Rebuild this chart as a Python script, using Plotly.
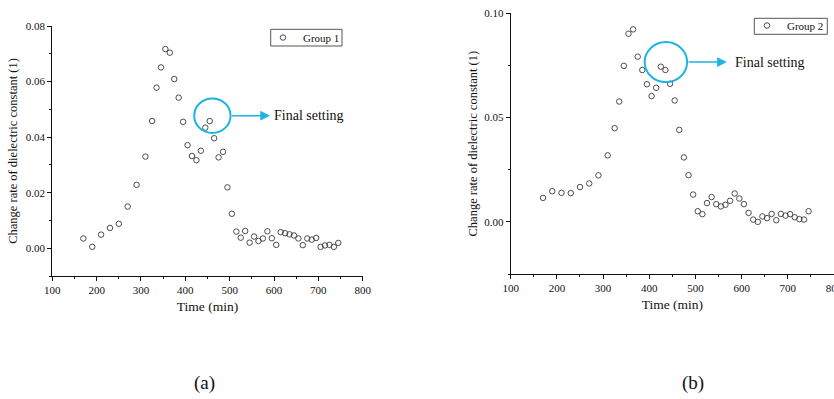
import plotly.graph_objects as go

# ---------------- data ----------------
time_min = [170, 190, 210, 230, 250, 270, 290, 310,
            325, 335, 345, 355, 365, 375, 385, 395, 405, 415, 425, 435,
            445, 455, 465, 475, 485, 495, 505, 515, 525, 535, 545, 555,
            565, 575, 585, 595, 605, 615, 625, 635, 645, 655, 665, 675,
            685, 695, 705, 715, 725, 735, 745]

group1 = [0.0035, 0.0005, 0.0049, 0.0073, 0.0088, 0.0150, 0.0228, 0.0330,
          0.0458, 0.0578, 0.0651, 0.0717, 0.0704, 0.0609, 0.0542, 0.0455,
          0.0371, 0.0332, 0.0317, 0.0351, 0.0434, 0.0458, 0.0396, 0.0327,
          0.0347, 0.0219, 0.0124, 0.0060, 0.0038, 0.0062, 0.0020, 0.0042,
          0.0026, 0.0035, 0.0061, 0.0036, 0.0012, 0.0058, 0.0054, 0.0050,
          0.0046, 0.0035, 0.0011, 0.0035, 0.0031, 0.0037, 0.0005, 0.0010,
          0.0012, 0.0005, 0.0019]

group2 = [0.0115, 0.0147, 0.0139, 0.0138, 0.0167, 0.0184, 0.0223, 0.0319,
          0.0449, 0.0577, 0.0748, 0.0902, 0.0923, 0.0792, 0.0728, 0.0660,
          0.0603, 0.0643, 0.0744, 0.0728, 0.0662, 0.0582, 0.0441, 0.0309,
          0.0224, 0.0131, 0.0051, 0.0037, 0.0090, 0.0119, 0.0085, 0.0074,
          0.0082, 0.0101, 0.0136, 0.0112, 0.0085, 0.0043, 0.0011, 0.0000,
          0.0026, 0.0018, 0.0038, 0.0008, 0.0038, 0.0030, 0.0037, 0.0022,
          0.0013, 0.0011, 0.0051]

series_names = ["Group 1", "Group 2"]
panel_labels = ["(a)", "(b)"]
x_title = "Time (min)"
y_title = "Change rate of dielectric constant (1)"
note_text = "Final setting"

# final-setting highlight (data coords): centre x, centre y, radius x, radius y
hl1 = (461, 0.0477, 41, 0.0062)
hl2 = (436, 0.0766, 46, 0.0096)
arrow1 = (591, 595)   # arrow tip x, text start x
arrow2 = (568, 581)

FONT = "Liberation Serif, Times New Roman, Times, serif"
CYAN = "#1CB4E3"
MK = "#3a3a3a"

fig = go.Figure()
fig.add_trace(go.Scatter(
    x=time_min, y=group1, mode="markers", name=series_names[0],
    marker=dict(symbol="circle-open", size=5.5, color=MK, line=dict(width=0.9, color=MK)),
    xaxis="x", yaxis="y", legend="legend"))
fig.add_trace(go.Scatter(
    x=time_min, y=group2, mode="markers", name=series_names[1],
    marker=dict(symbol="circle-open", size=5.5, color=MK, line=dict(width=0.9, color=MK)),
    xaxis="x2", yaxis="y2", legend="legend2"))

W, H = 834, 399

def axis_common():
    return dict(showline=True, linecolor="#111", linewidth=1, ticks="outside",
                ticklen=4, tickwidth=1, tickcolor="#111", showgrid=False,
                zeroline=False, automargin=False, mirror=False,
                ticklabeloverflow="allow",
                tickfont=dict(family=FONT, size=11, color="#111"))

xa = axis_common()
xa.update(range=[100, 800], dtick=100, tick0=100, domain=[52.3 / W, 362.7 / W],
          anchor="y", title=dict(text=x_title, font=dict(family=FONT, size=13.5, color="#111"), standoff=6),
          minor=dict(ticks="outside", ticklen=2, dtick=50, tick0=100, tickcolor="#111"))
ya = axis_common()
ya.update(range=[-0.01, 0.08], dtick=0.02, tick0=0, tickformat=".2f",
          domain=[1 - 276 / H, 1 - 26 / H], anchor="x",
          title=dict(text=y_title, font=dict(family=FONT, size=12.5, color="#111"), standoff=5),
          minor=dict(ticks="outside", ticklen=2, dtick=0.01, tick0=0, tickcolor="#111"))
xa2 = axis_common()
xa2.update(range=[100, 800], dtick=100, tick0=100, domain=[510.7 / W, 1.0],
           anchor="y2", title=dict(text=x_title, font=dict(family=FONT, size=13.5, color="#111"), standoff=6),
           minor=dict(ticks="outside", ticklen=2, dtick=50, tick0=100, tickcolor="#111"))
ya2 = axis_common()
ya2.update(range=[-0.025, 0.10], dtick=0.05, tick0=0, tickformat=".2f",
           domain=[1 - 274 / H, 1 - 13.3 / H], anchor="x2",
           title=dict(text=y_title, font=dict(family=FONT, size=12.5, color="#111"), standoff=3),
           minor=dict(ticks="outside", ticklen=2, dtick=0.025, tick0=0, tickcolor="#111"))

shapes = []
annotations = []
for (cx, cy, rx, ry), (tip, tx), xr, yr in [(hl1, arrow1, "x", "y"), (hl2, arrow2, "x2", "y2")]:
    shapes.append(dict(type="circle", xref=xr, yref=yr, x0=cx - rx, x1=cx + rx,
                       y0=cy - ry, y1=cy + ry, line=dict(color=CYAN, width=2)))
    annotations.append(dict(x=tip, y=cy, xref=xr, yref=yr, ax=cx + rx, ay=cy,
                            axref=xr, ayref=yr, text="", showarrow=True,
                            arrowhead=2, arrowsize=1.3, arrowwidth=1.5, arrowcolor=CYAN))
    annotations.append(dict(x=tx, y=cy, xref=xr, yref=yr, text=note_text, showarrow=False,
                            xanchor="left", yanchor="middle",
                            font=dict(family=FONT, size=14, color="#111")))

for lbl, px in zip(panel_labels, [204, 693]):
    annotations.append(dict(x=px / W, y=1 - 383 / H, xref="paper", yref="paper", text=lbl,
                            showarrow=False, xanchor="center", yanchor="middle",
                            font=dict(family=FONT, size=19, color="#111")))

# legend frames (pixel boxes -> paper coords)
for (l, t, r, b) in [(270.7, 29.3, 342.0, 46.0), (754.3, 18.3, 827.3, 34.3)]:
    shapes.append(dict(type="rect", xref="paper", yref="paper", x0=l / W, x1=r / W,
                       y0=1 - b / H, y1=1 - t / H, line=dict(color="#555", width=1),
                       fillcolor="white", layer="below"))

legend_style = dict(bgcolor="rgba(0,0,0,0)", borderwidth=0,
                    font=dict(family=FONT, size=11, color="#111"),
                    itemwidth=30, xanchor="left", yanchor="top", xref="paper", yref="paper",
                    tracegroupgap=0)

fig.update_layout(
    width=W, height=H, margin=dict(l=0, r=0, t=0, b=0),
    font=dict(family=FONT, color="#111"),
    paper_bgcolor="white", plot_bgcolor="rgba(0,0,0,0)",
    xaxis=xa, yaxis=ya, xaxis2=xa2, yaxis2=ya2,
    shapes=shapes, annotations=annotations, showlegend=True,
    legend=dict(x=263 / W, y=1 - 23 / H, **legend_style),
    legend2=dict(x=747 / W, y=1 - 11 / H, **legend_style),
)

fig.write_html("out.html")
